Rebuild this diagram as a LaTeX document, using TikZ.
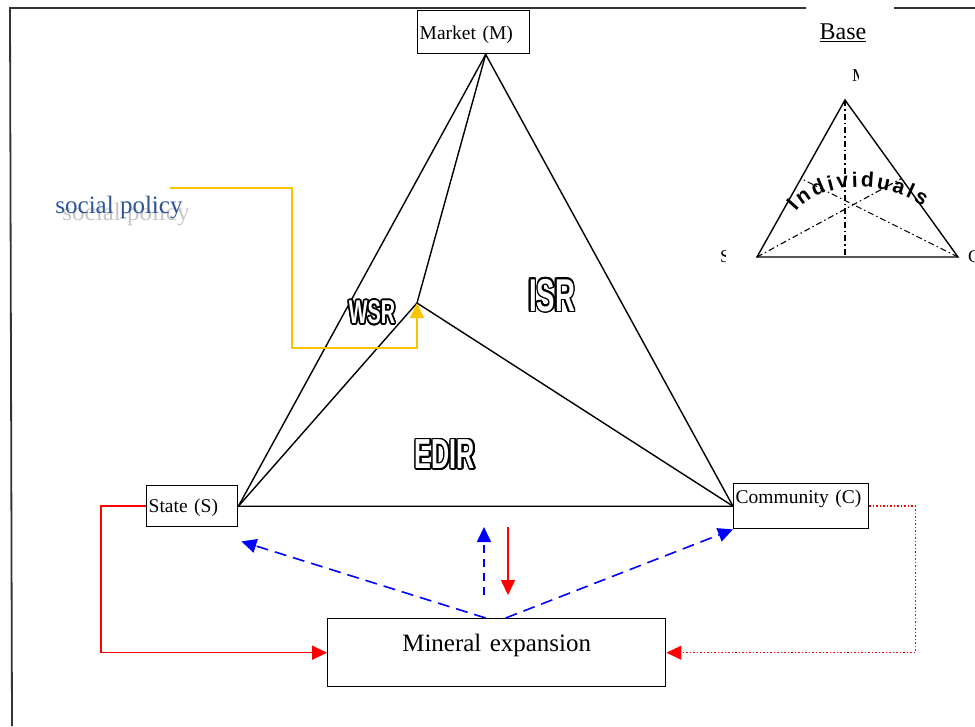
\documentclass[tikz,border=0pt]{standalone}
\usepackage{fontspec}
\setmainfont{Liberation Serif}
\newfontfamily\outfont[FakeStretch=0.6]{Liberation Sans Bold}
\newfontfamily\indfont{Liberation Sans Bold}
\usepackage{contour}
\contourlength{1.6pt}
\usetikzlibrary{arrows.meta, positioning, calc, decorations.text}
\definecolor{PolicyBlue}{RGB}{46, 86, 150}
\definecolor{PolicyYellow}{RGB}{250, 196, 0}
\definecolor{LinkBlue}{RGB}{0, 0, 255}
\definecolor{LinkRed}{RGB}{255, 0, 0}
\newcommand{\outlab}[2]{\fontsize{#1}{#1}\outfont\contour{black}{\textcolor{white}{#2}}}

\begin{document}
\begin{tikzpicture}[
    x=1pt, y=-1pt,
    every node/.style={font=\fontsize{19.5}{22}\selectfont},
    actor/.style={draw, line width=1.4pt, inner xsep=2pt, inner ysep=0pt,
                  anchor=north west, align=left},
    tip/.style={-{Triangle[length=15pt, width=14pt]}},
    tri/.style={line width=1.4pt},
    guide/.style={dash pattern=on 6pt off 3pt on 1.5pt off 3pt, line width=1.1pt},
    bluelink/.style={LinkBlue, line width=1.6pt, dash pattern=on 12pt off 7pt, tip},
    redlink/.style={LinkRed, line width=1.5pt, tip}
]
\useasboundingbox (0,0) rectangle (975,726);
% frame
\draw[line width=1.8pt, black!80] (806,8) -- (10,8) -- (12,726);
\draw[line width=1.8pt, black!80] (894,8) -- (975,8);

% actors
\node[actor, text width=108pt, text height=29pt, text depth=14pt] (market) at (417,10) {Market (M)};
\node[actor, text width=87pt, text height=27pt, text depth=14pt] (state) at (146,485) {State (S)};
\node[actor, text width=131pt, text height=20pt, text depth=25pt] (community) at (733,483) {Community (C)};
\node[actor, align=center, text width=334pt, text height=33pt, text depth=35pt,
      font=\fontsize{25}{28}\selectfont] (mineral) at (327,618) {Mineral expansion};

% triangle
\coordinate (mtop) at ($(market.south)+(12,0)$);
\coordinate (wsr) at (417,303);
\draw[tri] (mtop) -- (state.east) -- (community.west) -- cycle;
\draw[tri] (mtop) -- (wsr) -- (state.east);
\draw[tri] (wsr) -- (community.west);
\node (wsrlab) at (372,313) {\outlab{33}{WSR}};
\node (isrlab) at (552,296) {\outlab{46}{ISR}};
\node (edirlab) at (445,455) {\outlab{42}{EDIR}};

% social policy
\node[anchor=base, text=gray!45, font=\fontsize{25}{28}\selectfont] (policyshade) at (126,220) {social policy};
\node[anchor=base, text=PolicyBlue, font=\fontsize{25}{28}\selectfont] (policy) at (119,213) {social policy};
\coordinate (ptail) at (170,188);
\draw[PolicyYellow, line width=1.5pt, tip] (ptail) -| (292,348) -| (wsr);

% feedback links
\draw[redlink] (state.west) -- ++(-45,0) |- (mineral.west);
\draw[redlink, dotted] (community.east) -- ++(46,0) |- (mineral.east);
\coordinate (xleft) at ($(mineral.north)+(-11,0)$);
\coordinate (xright) at ($(mineral.north)+(9,0)$);
\coordinate (shead) at ($(state.south east)+(3,14)$);
\draw[bluelink] (xleft) -- (shead);
\draw[bluelink] (xright) -- (community.south west);
\coordinate (upfoot) at (484,595);
\coordinate (uphead) at (484,527);
\coordinate (downtop) at (508,527);
\coordinate (downhead) at (508,595);
\draw[bluelink, dash pattern=on 8pt off 6pt] (upfoot) -- (uphead);
\draw[redlink] (downtop) -- (downhead);

% base
\node[font=\fontsize{24}{26}\selectfont] (base) at (843,33) {\underline{Base}};
\coordinate (bm) at (845,100);
\coordinate (bs) at (757,257);
\coordinate (bc) at (958,257);
\draw[tri] (bm) -- (bs) -- (bc) -- cycle;
\draw[guide] (bm) -- (bm |- bs);
\draw[guide] (bs) -- ($(bm)!0.5!(bc)$);
\draw[guide] (bc) -- ($(bm)!0.5!(bs)$);
\begin{scope}
  \clip (840,60) rectangle (858,90);
  \node[font=\fontsize{18}{20}\selectfont] (mlab) at (860,76) {M};
\end{scope}
\begin{scope}
  \clip (710,240) rectangle (725,270);
  \node[font=\fontsize{18}{20}\selectfont] (slab) at (725,257) {S};
\end{scope}
\node[font=\fontsize{18}{20}\selectfont] (clab) at (974,257) {C};
\path[decorate, decoration={text along path, text align={fit to path},
      text={|\indfont\fontsize{21}{22}\selectfont|Individuals}}]
  (796,212) .. controls (820,182) and (880,178) .. (923,206);
\end{tikzpicture}
\end{document}
